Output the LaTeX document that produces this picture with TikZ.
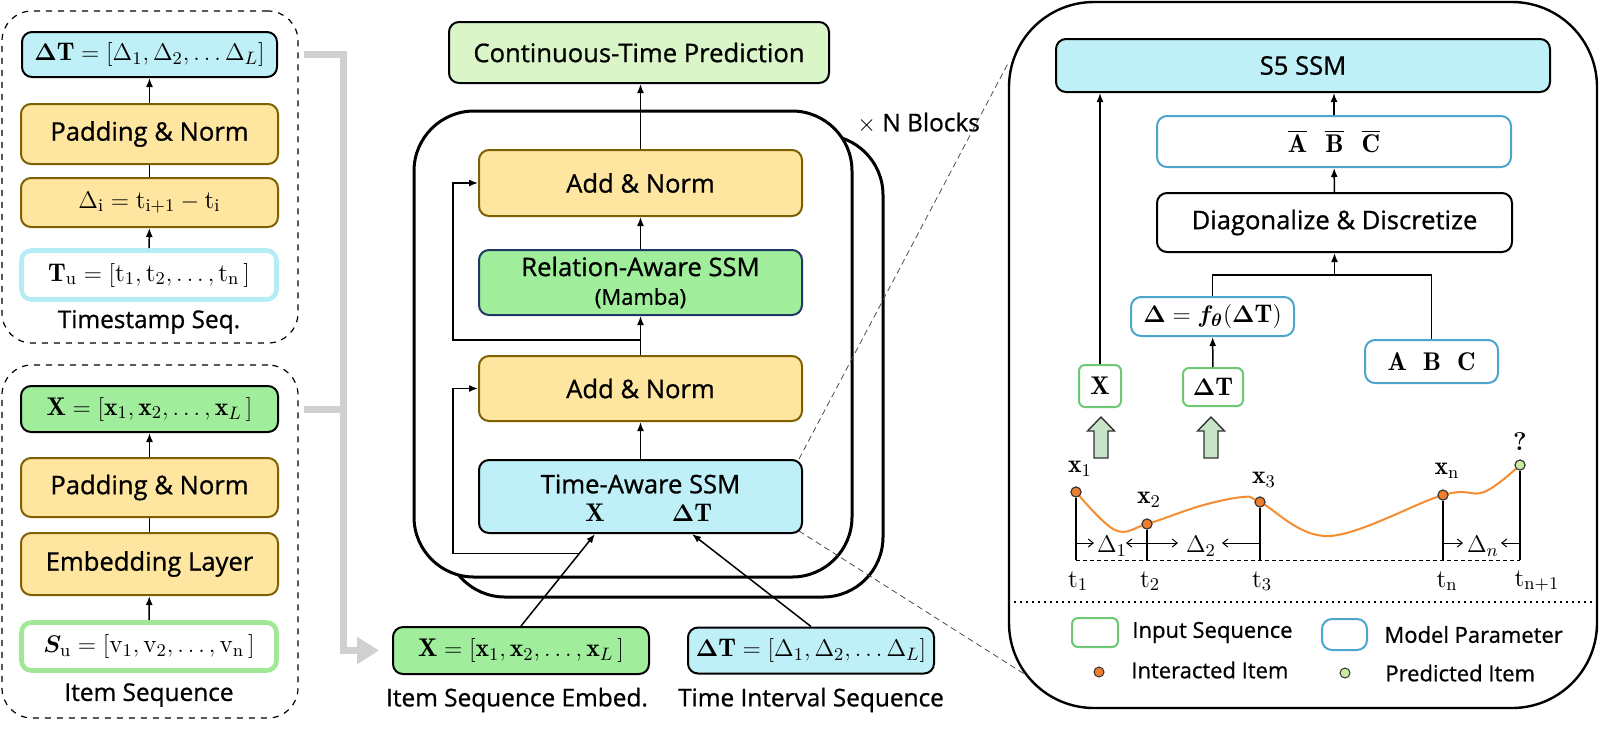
\documentclass[tikz,border=0pt]{standalone}
\usepackage{amsmath}
\usepackage{amssymb}
\usepackage{bm}
\usepackage{fontspec}
\setsansfont{Open Sans}[FakeBold=0.8]
\usepackage{tikz}
\usetikzlibrary{arrows.meta,positioning,calc}
\definecolor{tsCyan}{RGB}{192,240,247}
\definecolor{tsYellow}{RGB}{255,230,160}
\definecolor{tsBrown}{RGB}{127,96,0}
\definecolor{tsGreen}{RGB}{160,238,155}
\definecolor{tsPale}{RGB}{218,245,200}
\definecolor{tsNavy}{RGB}{32,56,100}
\definecolor{tsTuLine}{RGB}{182,236,244}
\definecolor{tsSuLine}{RGB}{160,232,150}
\definecolor{tsParam}{RGB}{75,165,205}
\definecolor{tsInput}{RGB}{110,200,115}
\definecolor{tsOrange}{RGB}{245,140,50}
\definecolor{tsDot}{RGB}{237,125,49}
\definecolor{tsPred}{RGB}{200,235,160}
\definecolor{tsArrow}{RGB}{200,228,200}
\definecolor{tsGray}{RGB}{208,208,208}
\newcommand{\mainsize}{\fontsize{12.8}{15.4}\selectfont}
\newcommand{\capsize}{\fontsize{12.2}{14.6}\selectfont}
\newcommand{\legsize}{\fontsize{11}{13.2}\selectfont}
\tikzset{
    box/.style={
        draw,
        rounded corners=5pt,
        fill=#1,
        line width=1pt,
        font=\sffamily\mainsize,
        align=center,
        inner sep=0pt
    },
    norm/.style={box=tsYellow, draw=tsBrown},
    rawIn/.style={box=white, draw=#1, line width=2.3pt},
    param/.style={box=white, draw=tsParam},
    inbox/.style={box=white, draw=tsInput, rounded corners=3pt},
    grp/.style={draw, dashed, rounded corners=15pt, line width=0.6pt},
    block/.style={draw, fill=white, line width=1.5pt, rounded corners=30pt},
    caption/.style={font=\sffamily\capsize, inner sep=0pt},
    % connectors
    arr/.style={-{Latex[length=4.5pt,width=3.5pt]}, line width=0.75pt},
    feed/.style={line width=3.5pt, draw=tsGray},
    zoomln/.style={dashed, dash pattern=on 3pt off 2pt, line width=0.4pt, draw=black!70},
    % timeline
    dot/.style={circle, draw=black!80, line width=0.5pt, fill=tsDot, minimum size=5pt, inner sep=0pt},
    pdot/.style={dot, fill=tsPred},
    tip/.style={-{Straight Barb[length=2.5pt,width=4pt]}, line width=0.5pt},
    bigarr/.style={draw=black!80, fill=tsArrow, line width=0.7pt, line join=miter}
}
\begin{document}
\begin{tikzpicture}[x=0.5pt, y=-0.5pt, font=\mainsize]
\useasboundingbox (0,0) rectangle (1600,730);

% left: timestamp sequence
\node[grp, minimum width=148pt, minimum height=166pt] (grpT) at (150,177) {};
\node[box=tsCyan, minimum width=127.5pt, minimum height=22.5pt] (dtL) at (149.5,54.5) {$\bm{\Delta}\mathbf{T} = [\Delta_1, \Delta_2, \ldots \Delta_L]$};
\node[norm, minimum width=128.5pt, minimum height=30pt] (padT) at (149.5,134) {Padding \& Norm};
\node[norm, minimum width=128.5pt, minimum height=24.5pt] (diff) at (149.5,202.5) {$\Delta_{\mathrm{i}} = \mathrm{t}_{\mathrm{i}+1} - \mathrm{t}_{\mathrm{i}}$};
\node[rawIn=tsTuLine, minimum width=127.5pt, minimum height=24.5pt] (tu) at (149,275) {$\mathbf{T}_{\mathrm{u}} = [\mathrm{t}_1, \mathrm{t}_2, \ldots, \mathrm{t}_{\mathrm{n}}\,]$};
\node[caption] (labT) at (149,322) {Timestamp Seq.};
\draw[arr] (tu) -- (diff);
\draw[line width=0.75pt] (diff) -- (padT);
\draw[arr] (padT) -- (dtL);

% left: item sequence
\node[grp, minimum width=148pt, minimum height=176.5pt] (grpI) at (150,541.5) {};
\node[box=tsGreen, minimum width=128.5pt, minimum height=23pt] (xL) at (149.5,409) {$\mathbf{X} = [\mathbf{x}_1, \mathbf{x}_2, \ldots, \mathbf{x}_L\,]$};
\node[norm, minimum width=128.5pt, minimum height=29.5pt] (padI) at (149.5,487.5) {Padding \& Norm};
\node[norm, minimum width=128.5pt, minimum height=31pt] (emb) at (149.5,564) {Embedding Layer};
\node[rawIn=tsSuLine, minimum width=127.5pt, minimum height=24pt] (su) at (149,646.5) {$\bm{S}_{\mathrm{u}} = [\mathrm{v}_1, \mathrm{v}_2, \ldots, \mathrm{v}_{\mathrm{n}}\,]$};
\node[caption] (labI) at (149,695) {Item Sequence};
\draw[arr] (su) -- (emb);
\draw[line width=0.75pt] (emb) -- (padI);
\draw[arr] (padI) -- (xL);

% middle: stacked blocks
\node[block, minimum width=219pt, minimum height=231pt] (blkBack) at (664,366) {};
\node[block, minimum width=219pt, minimum height=233pt] (blkFront) at (633,344) {};
\node[anchor=west, font=\sffamily\capsize, inner sep=0pt] (nblk) at (857,123) {$\times$ N Blocks};

\node[box=tsPale, minimum width=190pt, minimum height=30.5pt] (ctp) at (639,52.5) {Continuous-Time Prediction};
\node[norm, minimum width=161.5pt, minimum height=33pt] (addT) at (640.5,183) {Add \& Norm};
\node[box=tsGreen, draw=tsNavy, minimum width=161.5pt, minimum height=32.5pt] (rel) at (640.5,282.5) {Relation-Aware SSM\\[-1pt]{\fontsize{11}{13}\selectfont (Mamba)}};
\node[norm, minimum width=161.5pt, minimum height=32.5pt] (addB) at (640.5,388.5) {Add \& Norm};
\node[box=tsCyan, minimum width=161.5pt, minimum height=36.5pt] (tas) at (640.5,496.5) {};
\node[font=\sffamily\mainsize, inner sep=0pt] (tasT) at (640.5,484) {Time-Aware SSM};
\node[inner sep=0pt] (tasX) at (595,513) {$\mathbf{X}$};
\node[inner sep=0pt] (tasDT) at (692,513) {$\bm{\Delta}\mathbf{T}$};

\node[box=tsGreen, minimum width=128pt, minimum height=23.5pt] (xM) at (521,650.5) {$\mathbf{X} = [\mathbf{x}_1, \mathbf{x}_2, \ldots, \mathbf{x}_L\,]$};
\node[box=tsCyan, minimum width=123pt, minimum height=23pt] (dtM) at (811,650.5) {$\bm{\Delta}\mathbf{T} = [\Delta_1, \Delta_2, \ldots \Delta_L]$};
\node[caption] (labXM) at (517,700) {Item Sequence Embed.};
\node[caption] (labDM) at (811,700) {Time Interval Sequence};

\coordinate (skipX) at (453,0);
\coordinate (jTop) at (640.5,340);
\draw[arr] (tas) -- (addB);
\draw[arr] (addB) -- (rel);
\draw[arr] (rel) -- (addT);
\draw[arr] (addT.north) -- (addT.north |- ctp.south);
\draw[arr] (jTop) -- (jTop -| skipX) |- (addT.west);
\draw[arr] (xM.north) -- (tasX |- tas.south);
\draw[arr] (dtM.north) -- (tasDT |- tas.south);
\coordinate (jBot) at ($(xM.north)!0.787!(tasX |- tas.south)$);
\draw[arr] (jBot) -- (jBot -| skipX) |- (addB.west);

% gray feed lines
\coordinate (bus) at (343,0);
\draw[feed, -{Triangle[length=11pt,width=13pt]}, shorten >=6.5pt] ([xshift=2.5pt]grpT.east |- dtL) -| (bus |- xM) -- (xM.west);
\draw[feed] ([xshift=2.5pt]grpI.east |- xL) -- (bus |- xL);

% right: zoomed view
\node[draw, line width=1.2pt, rounded corners=42.5pt, minimum width=294pt, minimum height=353pt] (panel) at (1303,355) {};
\draw[zoomln] ([xshift=-2pt]tas.north east) -- ([yshift=-31.5pt]panel.north west);
\draw[zoomln] ([xshift=-2pt,yshift=1.5pt]tas.south east) -- ([xshift=10pt,yshift=16.5pt]panel.south west);

\node[box=tsCyan, minimum width=247pt, minimum height=26.5pt] (s5) at (1303,65.5) {S5 SSM};
\node[param, minimum width=177pt, minimum height=25.5pt] (abar) at (1334,141.5) {$\overline{\mathbf{A}}\hspace{9pt}\overline{\mathbf{B}}\hspace{9pt}\overline{\mathbf{C}}$};
\node[box=white, minimum width=177.5pt, minimum height=29.5pt] (diag) at (1334.5,222.5) {Diagonalize \& Discretize};
\node[param, minimum width=81.5pt, minimum height=19.5pt] (delta) at (1212.5,316.5) {$\bm{\Delta} = \bm{f}_{\bm{\theta}}(\bm{\Delta}\mathbf{T})$};
\node[param, minimum width=66.5pt, minimum height=21.5pt] (abc) at (1431.5,361.5) {$\mathbf{A}\hspace{8pt}\mathbf{B}\hspace{8pt}\mathbf{C}$};
\node[inbox, minimum width=21pt, minimum height=21pt] (xR) at (1100,386) {$\mathbf{X}$};
\node[inbox, minimum width=30pt, minimum height=19pt] (dtR) at (1213,387) {$\bm{\Delta}\mathbf{T}$};

\coordinate (jn) at ($(diag.south)+(0,22)$);
\draw[arr] (xR.north) -- (xR.north |- s5.south);
\draw[arr] (abar.north) -- (abar.north |- s5.south);
\draw[arr] (diag) -- (abar);
\draw[arr] (jn) -- (diag.south);
\draw[line width=0.75pt] (delta.north) |- (abc.north |- jn) -- (abc.north);
\draw[arr] (dtR) -- (delta);

% hollow up arrows
\foreach \ax in {1101,1211}
    \draw[bigarr] (\ax-7,458) -- (\ax-7,431) -- (\ax-13.5,431) -- (\ax,417) -- (\ax+13.5,431) -- (\ax+7,431) -- (\ax+7,458) -- cycle;

% timeline
\coordinate (base) at (0,560);
\coordinate (dl) at (0,543);
\node[dot] (p1) at (1076,492) {};
\node[dot] (p2) at (1147,524) {};
\node[dot] (p3) at (1260,502) {};
\node[dot] (pn) at (1443,495) {};
\node[pdot] (pq) at (1520,465) {};
\draw[dashed, line width=0.5pt, dash pattern=on 2pt off 1.5pt] (p1 |- base) -- (pq |- base);
\foreach \pp in {p1,p2,p3,pn,pq}
    \draw[line width=0.6pt] (\pp) -- (\pp |- base);
\draw[tsOrange, line width=1pt] plot[smooth, tension=0.6] coordinates {(1076,492) (1115,530) (1147,524) (1200,506) (1243,497) (1260,502) (1329,536) (1443,495) (1484,492) (1520,465)};
\node[dot] at (p1) {};
\node[dot] at (p2) {};
\node[dot] at (p3) {};
\node[dot] at (pn) {};
\node[pdot] at (pq) {};

\node[inner sep=0pt] (lx1) at (1080,469) {$\mathbf{x}_1$};
\node[inner sep=0pt] (lx2) at (1149,500) {$\mathbf{x}_2$};
\node[inner sep=0pt] (lx3) at (1264,480) {$\mathbf{x}_3$};
\node[inner sep=0pt] (lxn) at (1447,471) {$\mathbf{x}_{\mathrm{n}}$};
\node[font=\bfseries\mainsize, inner sep=0pt] (lq) at (1520,442) {?};

\draw[tip] (p1 |- dl) -- ++(18,0);
\node[inner sep=0pt] (d1) at (1112,546) {$\Delta_1$};
\draw[tip] (p2 |- dl) -- ++(-21,0);
\draw[tip] (p2 |- dl) -- ++(31,0);
\node[inner sep=0pt] (d2) at (1201,546) {$\Delta_2$};
\draw[tip] (p3 |- dl) -- ++(-38,0);
\draw[tip] (pn |- dl) -- ++(20,0);
\node[inner sep=0pt] (dn) at (1483,546) {$\Delta_n$};
\draw[tip] (pq |- dl) -- ++(-19,0);

\node[inner sep=0pt] (t1) at (1078,581) {$\mathrm{t}_1$};
\node[inner sep=0pt] (t2) at (1150,581) {$\mathrm{t}_2$};
\node[inner sep=0pt] (t3) at (1262,581) {$\mathrm{t}_3$};
\node[inner sep=0pt] (tn) at (1447,581) {$\mathrm{t}_{\mathrm{n}}$};
\node[inner sep=0pt] (tq) at (1537,581) {$\mathrm{t}_{\mathrm{n}+1}$};

% legend
\coordinate (sepY) at (0,602);
\draw[dotted, line width=1pt] (panel.west |- sepY) -- (panel.east |- sepY);
\node[inbox, minimum width=23pt, minimum height=14.5pt] (lgIn) at (1095,632.5) {};
\node[font=\sffamily\legsize, inner sep=0pt, right=6.5pt of lgIn] (lgInT) {Input Sequence};
\node[param, minimum width=22.5pt, minimum height=15.5pt] (lgPar) at (1344.5,634.5) {};
\node[font=\sffamily\legsize, inner sep=0pt, right=8pt of lgPar] (lgParT) {Model Parameter};
\node[dot] (lgDot) at (1099,672) {};
\node[font=\sffamily\legsize, inner sep=0pt, anchor=west] (lgDotT) at (1131,670) {Interacted Item};
\node[pdot] (lgPred) at (1345,673) {};
\node[font=\sffamily\legsize, inner sep=0pt, anchor=west] (lgPredT) at (1385,673) {Predicted Item};
\end{tikzpicture}
\end{document}
